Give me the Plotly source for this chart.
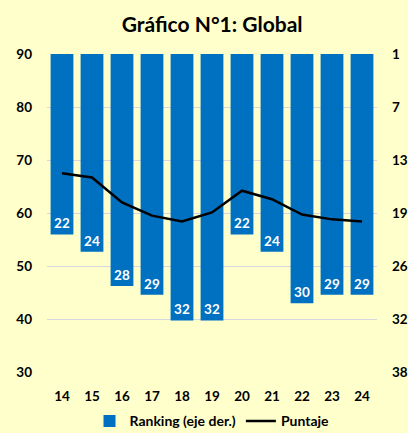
import numpy as np
import plotly.graph_objects as go

years = ["14", "15", "16", "17", "18", "19", "20", "21", "22", "23", "24"]
ranking = [22, 24, 28, 29, 32, 32, 22, 24, 30, 29, 29]
puntaje = [67.5, 66.7, 62.0, 59.5, 58.4, 60.1, 64.2, 62.6, 59.7, 58.8, 58.4]
right_tick_labels = ["1", "7", "13", "19", "26", "32", "38"]

BG = "#FFFFCC"
BLUE = "#0070C0"
FONT = "Lato"

fig = go.Figure()
fig.add_trace(go.Bar(
    x=years, y=ranking, name="Ranking (eje der.)", yaxis="y",
    marker=dict(color=BLUE, line=dict(width=0)),
    text=[str(r) for r in ranking], textposition="inside",
    insidetextanchor="end", textangle=0,
    textfont=dict(color="white", size=13.5, family=FONT, weight="bold"),
    width=0.76,
))
fig.add_trace(go.Scatter(
    x=years, y=puntaje, name="Puntaje", yaxis="y2", mode="lines",
    line=dict(color="black", width=2.5),
))

fig.update_layout(
    width=408, height=433,
    paper_bgcolor=BG, plot_bgcolor=BG,
    margin=dict(l=47, r=31, t=54, b=61, autoexpand=False),
    font=dict(family=FONT, size=13.5, color="black", weight="bold"),
    title=dict(text="<b>Gráfico N°1: Global</b>", x=0.52, xanchor="center",
               y=0.942, yanchor="middle",
               font=dict(size=21, family=FONT, color="black")),
    showlegend=True,
    legend=dict(orientation="h", x=0.5, xanchor="center", y=-0.105, yanchor="top",
                font=dict(size=14, family=FONT, weight="bold"),
                bgcolor="rgba(0,0,0,0)", itemwidth=30, tracegroupgap=0),
    xaxis=dict(type="category", showgrid=False, showline=False, ticks="",
               automargin=False, ticklabelstandoff=14, tickfont=dict(size=13.5)),
    yaxis=dict(side="right", range=[38, 1], tickmode="array",
               tickvals=list(np.linspace(1, 38, 7)), ticktext=right_tick_labels,
               showgrid=True, gridcolor="#D6D6DE", gridwidth=1.3,
               zeroline=False, showline=False, ticks="", automargin=False,
               ticklabelstandoff=14, tickfont=dict(size=13.5)),
    yaxis2=dict(side="left", overlaying="y", range=[30, 90], dtick=10,
                showgrid=False, zeroline=False, showline=False, ticks="",
                automargin=False, ticklabelstandoff=14, tickfont=dict(size=13.5)),
)

fig.write_html(
    "out.html",
    config={"displayModeBar": False},
    post_script="document.body.style.margin='0';document.body.style.background='#FFFFCC';",
)
